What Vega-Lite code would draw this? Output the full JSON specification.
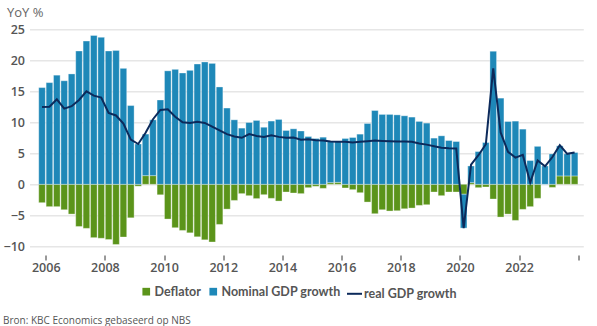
{
  "$schema": "https://vega.github.io/schema/vega-lite/v6.json",
  "width": 553.8,
  "height": 225.7,
  "autosize": {"type": "none"},
  "padding": {"left": 29.5, "top": 29.3, "right": 13.7, "bottom": 71},
  "background": "white",
  "config": {
    "view": {"stroke": null},
    "font": "Open Sans"
  },
  "title": {
    "text": "Bron: KBC Economics gebaseerd op NBS",
    "orient": "bottom",
    "anchor": "start",
    "frame": "bounds",
    "fontSize": 10,
    "fontWeight": "normal",
    "color": "#555555",
    "offset": 16
  },
  "data": {
    "values": [
      {"q": 2005.875, "Nominal GDP growth": 15.6, "Deflator": -2.96, "real GDP growth": 12.45},
      {"q": 2006.125, "Nominal GDP growth": 16.4, "Deflator": -3.6, "real GDP growth": 12.5},
      {"q": 2006.375, "Nominal GDP growth": 17.6, "Deflator": -3.6, "real GDP growth": 13.7},
      {"q": 2006.625, "Nominal GDP growth": 16.7, "Deflator": -4.1, "real GDP growth": 12.2},
      {"q": 2006.875, "Nominal GDP growth": 17.8, "Deflator": -4.8, "real GDP growth": 12.6},
      {"q": 2007.125, "Nominal GDP growth": 21.5, "Deflator": -6.8, "real GDP growth": 13.6},
      {"q": 2007.375, "Nominal GDP growth": 23.1, "Deflator": -7.1, "real GDP growth": 15.0},
      {"q": 2007.625, "Nominal GDP growth": 24.0, "Deflator": -8.6, "real GDP growth": 14.3},
      {"q": 2007.875, "Nominal GDP growth": 23.7, "Deflator": -8.7, "real GDP growth": 14.0},
      {"q": 2008.125, "Nominal GDP growth": 21.5, "Deflator": -8.9, "real GDP growth": 11.5},
      {"q": 2008.375, "Nominal GDP growth": 21.6, "Deflator": -9.7, "real GDP growth": 11.1},
      {"q": 2008.625, "Nominal GDP growth": 18.7, "Deflator": -8.5, "real GDP growth": 9.8},
      {"q": 2008.875, "Nominal GDP growth": 12.7, "Deflator": -5.4, "real GDP growth": 7.2},
      {"q": 2009.125, "Nominal GDP growth": 6.5, "Deflator": -0.3, "real GDP growth": 6.5},
      {"q": 2009.375, "Nominal GDP growth": 6.7, "Deflator": 1.4, "real GDP growth": 8.3},
      {"q": 2009.625, "Nominal GDP growth": 9.0, "Deflator": 1.4, "real GDP growth": 10.5},
      {"q": 2009.875, "Nominal GDP growth": 13.6, "Deflator": -1.7, "real GDP growth": 12.0},
      {"q": 2010.125, "Nominal GDP growth": 18.3, "Deflator": -5.6, "real GDP growth": 12.1},
      {"q": 2010.375, "Nominal GDP growth": 18.54, "Deflator": -7.0, "real GDP growth": 10.9},
      {"q": 2010.625, "Nominal GDP growth": 17.95, "Deflator": -7.44, "real GDP growth": 10.0},
      {"q": 2010.875, "Nominal GDP growth": 18.38, "Deflator": -7.82, "real GDP growth": 9.9},
      {"q": 2011.125, "Nominal GDP growth": 19.4, "Deflator": -8.46, "real GDP growth": 10.1},
      {"q": 2011.375, "Nominal GDP growth": 19.73, "Deflator": -8.95, "real GDP growth": 9.9},
      {"q": 2011.625, "Nominal GDP growth": 19.5, "Deflator": -9.3, "real GDP growth": 9.3},
      {"q": 2011.875, "Nominal GDP growth": 15.7, "Deflator": -6.47, "real GDP growth": 8.7},
      {"q": 2012.125, "Nominal GDP growth": 12.3, "Deflator": -4.0, "real GDP growth": 8.1},
      {"q": 2012.375, "Nominal GDP growth": 10.4, "Deflator": -2.6, "real GDP growth": 7.7},
      {"q": 2012.625, "Nominal GDP growth": 9.06, "Deflator": -1.5, "real GDP growth": 7.5},
      {"q": 2012.875, "Nominal GDP growth": 9.97, "Deflator": -1.83, "real GDP growth": 8.1},
      {"q": 2013.125, "Nominal GDP growth": 10.3, "Deflator": -2.3, "real GDP growth": 7.8},
      {"q": 2013.375, "Nominal GDP growth": 9.2, "Deflator": -1.67, "real GDP growth": 7.65},
      {"q": 2013.625, "Nominal GDP growth": 10.2, "Deflator": -2.26, "real GDP growth": 7.9},
      {"q": 2013.875, "Nominal GDP growth": 10.46, "Deflator": -2.7, "real GDP growth": 7.65},
      {"q": 2014.125, "Nominal GDP growth": 8.68, "Deflator": -1.24, "real GDP growth": 7.5},
      {"q": 2014.375, "Nominal GDP growth": 8.95, "Deflator": -1.4, "real GDP growth": 7.55},
      {"q": 2014.625, "Nominal GDP growth": 8.6, "Deflator": -1.5, "real GDP growth": 7.2},
      {"q": 2014.875, "Nominal GDP growth": 7.71, "Deflator": -0.54, "real GDP growth": 7.28},
      {"q": 2015.125, "Nominal GDP growth": 7.39, "Deflator": -0.32, "real GDP growth": 7.1},
      {"q": 2015.375, "Nominal GDP growth": 7.6, "Deflator": -0.65, "real GDP growth": 7.06},
      {"q": 2015.625, "Nominal GDP growth": 6.63, "Deflator": 0.27, "real GDP growth": 6.9},
      {"q": 2015.875, "Nominal GDP growth": 6.58, "Deflator": 0.32, "real GDP growth": 6.85},
      {"q": 2016.125, "Nominal GDP growth": 7.39, "Deflator": -0.59, "real GDP growth": 6.85},
      {"q": 2016.375, "Nominal GDP growth": 7.55, "Deflator": -0.86, "real GDP growth": 6.74},
      {"q": 2016.625, "Nominal GDP growth": 8.09, "Deflator": -1.35, "real GDP growth": 6.85},
      {"q": 2016.875, "Nominal GDP growth": 9.81, "Deflator": -2.86, "real GDP growth": 6.95},
      {"q": 2017.125, "Nominal GDP growth": 11.9, "Deflator": -4.74, "real GDP growth": 7.06},
      {"q": 2017.375, "Nominal GDP growth": 11.27, "Deflator": -4.1, "real GDP growth": 7.0},
      {"q": 2017.625, "Nominal GDP growth": 11.27, "Deflator": -4.31, "real GDP growth": 6.95},
      {"q": 2017.875, "Nominal GDP growth": 11.2, "Deflator": -4.26, "real GDP growth": 6.9},
      {"q": 2018.125, "Nominal GDP growth": 11.05, "Deflator": -3.94, "real GDP growth": 6.9},
      {"q": 2018.375, "Nominal GDP growth": 10.84, "Deflator": -3.83, "real GDP growth": 6.85},
      {"q": 2018.625, "Nominal GDP growth": 10.14, "Deflator": -3.4, "real GDP growth": 6.58},
      {"q": 2018.875, "Nominal GDP growth": 9.87, "Deflator": -3.29, "real GDP growth": 6.4},
      {"q": 2019.125, "Nominal GDP growth": 7.45, "Deflator": -1.24, "real GDP growth": 6.15},
      {"q": 2019.375, "Nominal GDP growth": 7.82, "Deflator": -1.83, "real GDP growth": 5.9},
      {"q": 2019.625, "Nominal GDP growth": 7.06, "Deflator": -1.24, "real GDP growth": 5.82},
      {"q": 2019.875, "Nominal GDP growth": 6.9, "Deflator": -1.24, "real GDP growth": 5.77},
      {"q": 2020.125, "Nominal GDP growth": -5.46, "Deflator": -1.6, "real GDP growth": -7.06},
      {"q": 2020.375, "Nominal GDP growth": 2.69, "Deflator": 0.27, "real GDP growth": 3.18},
      {"q": 2020.625, "Nominal GDP growth": 5.28, "Deflator": -0.54, "real GDP growth": 4.69},
      {"q": 2020.875, "Nominal GDP growth": 6.74, "Deflator": -0.43, "real GDP growth": 6.47},
      {"q": 2021.125, "Nominal GDP growth": 21.46, "Deflator": -2.37, "real GDP growth": 18.7},
      {"q": 2021.375, "Nominal GDP growth": 13.9, "Deflator": -5.28, "real GDP growth": 8.36},
      {"q": 2021.625, "Nominal GDP growth": 10.13, "Deflator": -4.8, "real GDP growth": 5.23},
      {"q": 2021.875, "Nominal GDP growth": 10.19, "Deflator": -5.82, "real GDP growth": 4.31},
      {"q": 2022.125, "Nominal GDP growth": 8.9, "Deflator": -4.04, "real GDP growth": 4.74},
      {"q": 2022.375, "Nominal GDP growth": 3.83, "Deflator": -3.6, "real GDP growth": 0.3},
      {"q": 2022.625, "Nominal GDP growth": 6.12, "Deflator": -2.26, "real GDP growth": 3.86},
      {"q": 2022.875, "Nominal GDP growth": 2.96, "Deflator": 0, "real GDP growth": 2.9},
      {"q": 2023.125, "Nominal GDP growth": 4.9, "Deflator": -0.5, "real GDP growth": 4.4},
      {"q": 2023.375, "Nominal GDP growth": 4.85, "Deflator": 1.35, "real GDP growth": 6.32},
      {"q": 2023.625, "Nominal GDP growth": 3.57, "Deflator": 1.35, "real GDP growth": 4.92},
      {"q": 2023.875, "Nominal GDP growth": 3.78, "Deflator": 1.35, "real GDP growth": 5.13}
    ]
  },
  "encoding": {
    "x": {
      "field": "q",
      "type": "quantitative",
      "scale": {"domain": [2005.62, 2024], "nice": false, "zero": false},
      "axis": {
        "values": [2006, 2008, 2010, 2012, 2014, 2016, 2018, 2020, 2022, 2024],
        "labelExpr": "datum.value == 2024 ? '' : datum.label",
        "format": "d",
        "grid": false,
        "domain": false,
        "ticks": true,
        "tickColor": "#333333",
        "tickSize": 5,
        "labelFontSize": 12.5,
        "labelFontWeight": 600,
        "labelColor": "#555555",
        "labelPadding": 1.5,
        "labelOverlap": false,
        "title": null
      }
    }
  },
  "layer": [
    {
      "transform": [{"fold": ["Deflator", "Nominal GDP growth"], "as": ["series", "v"]}],
      "mark": {"type": "bar", "size": 6.6, "stroke": "white", "strokeWidth": 0.6, "strokeOpacity": 0.55},
      "encoding": {
        "y": {
          "field": "v",
          "type": "quantitative",
          "stack": "zero",
          "scale": {"domain": [-11.4, 25], "nice": false, "zero": false},
          "axis": {
            "values": [-10, -5, 0, 5, 10, 15, 20, 25],
            "tickCount": 8,
            "labelOverlap": false,
            "grid": true,
            "gridColor": "#e6e6e6",
            "gridWidth": 1.5,
            "domain": false,
            "ticks": false,
            "labelPadding": 5,
            "labelFontSize": 12.5,
            "labelFontWeight": 600,
            "labelColor": "#555555",
            "title": "YoY %",
            "titleAngle": 0,
            "titleAlign": "left",
            "titleBaseline": "middle",
            "titleX": -23,
            "titleY": -17,
            "titleFontSize": 13,
            "titleFontWeight": "normal",
            "titleColor": "#666666"
          }
        },
        "fill": {
          "field": "series",
          "type": "nominal",
          "scale": {
            "domain": ["Deflator", "Nominal GDP growth"],
            "range": ["#5b941a", "#1e88b8"]
          },
          "legend": {
            "orient": "none",
            "legendX": 110.5,
            "legendY": 256,
            "direction": "horizontal",
            "title": null,
            "labelFont": "Lato",
            "labelFontSize": 12.5,
            "labelFontWeight": "bold",
            "labelColor": "#555555",
            "symbolType": "square",
            "symbolSize": 59,
            "symbolStrokeWidth": 0,
            "columnPadding": 6,
            "labelOffset": 2
          }
        },
        "order": {"field": "series", "sort": "ascending"}
      }
    },
    {
      "transform": [{"fold": ["real GDP growth"], "as": ["series", "v"]}],
      "mark": {"type": "line", "strokeWidth": 2},
      "encoding": {
        "y": {
          "field": "v",
          "type": "quantitative",
          "axis": {
            "values": [-10, -5, 0, 5, 10, 15, 20, 25],
            "tickCount": 8,
            "labelOverlap": false,
            "grid": true,
            "gridColor": "#e6e6e6",
            "gridWidth": 1.5,
            "domain": false,
            "ticks": false,
            "labelPadding": 5,
            "labelFontSize": 12.5,
            "labelFontWeight": 600,
            "labelColor": "#555555",
            "title": "YoY %",
            "titleAngle": 0,
            "titleAlign": "left",
            "titleBaseline": "middle",
            "titleX": -23,
            "titleY": -17,
            "titleFontSize": 13,
            "titleFontWeight": "normal",
            "titleColor": "#666666"
          }
        },
        "stroke": {
          "field": "series",
          "type": "nominal",
          "scale": {"domain": ["real GDP growth"], "range": ["#0c2a5b"]},
          "legend": {
            "orient": "none",
            "legendX": 316.5,
            "legendY": 256,
            "direction": "horizontal",
            "title": null,
            "labelFont": "Lato",
            "labelFontSize": 12.5,
            "labelFontWeight": "bold",
            "labelColor": "#555555",
            "symbolType": "stroke",
            "symbolSize": 225,
            "symbolStrokeWidth": 2,
            "labelOffset": 1
          }
        }
      }
    }
  ]
}
